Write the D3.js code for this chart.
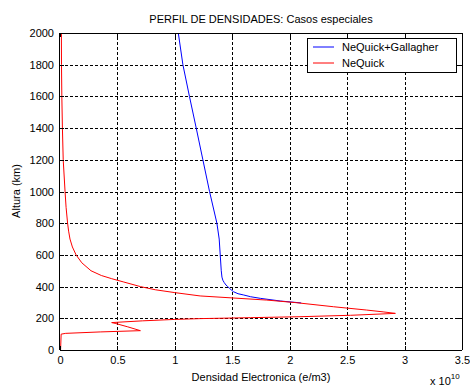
<!DOCTYPE html>
<html>
<head>
<meta charset="utf-8">
<script src="https://cdn.jsdelivr.net/npm/d3@7"></script>
<style>
  html, body { margin: 0; padding: 0; background: #fff; }
  svg { display: block; }
  text { font-family: "Liberation Sans", Arial, sans-serif; fill: #000; }
</style>
</head>
<body>
<svg id="chart" width="470" height="387"></svg>
<script>
// Electron density profiles (density in units of 1e10 e/m3, altitude in km)
const gallagherAlt = [2000, 1800, 1600, 1400, 1200, 1000, 800, 700, 600, 500, 460, 440, 425, 410, 400, 390, 380, 368, 355, 347, 336, 326, 309, 297];
const gallagherDen = [1.03, 1.07, 1.127, 1.186, 1.244, 1.302, 1.366, 1.386, 1.395, 1.404, 1.41, 1.418, 1.43, 1.445, 1.46, 1.475, 1.49, 1.51, 1.55, 1.60, 1.66, 1.744, 1.92, 2.10];

const nequickAlt = [2000, 1800, 1600, 1400, 1200, 1000, 900, 800, 750, 700, 650, 600, 550, 500, 470, 450, 430, 400, 380, 362, 341, 315, 299, 273, 252, 240, 231, 219, 210, 204, 198, 193, 184, 173, 168, 146, 122, 114, 105, 100, 0];
const nequickDen = [0.012, 0.013, 0.016, 0.021, 0.028, 0.044, 0.053, 0.066, 0.075, 0.087, 0.108, 0.14, 0.19, 0.27, 0.36, 0.45, 0.55, 0.70, 0.83, 1.0, 1.22, 1.80, 2.05, 2.38, 2.67, 2.82, 2.92, 2.53, 2.09, 1.66, 1.22, 1.0, 0.72, 0.45, 0.48, 0.59, 0.70, 0.35, 0.05, 0.01, 0.005];

const xTicks = [0, 0.5, 1, 1.5, 2, 2.5, 3, 3.5];
const yTicks = [0, 200, 400, 600, 800, 1000, 1200, 1400, 1600, 1800, 2000];

const seriesNames = ["NeQuick+Gallagher", "NeQuick"];
const seriesColors = ["#0000ff", "#ff0000"];

const titleText = "PERFIL DE DENSIDADES: Casos especiales";
const xLabel = "Densidad Electronica (e/m3)";
const yLabel = "Altura (km)";

const svg = d3.select("#chart");
const m = { left: 60, right: 462, top: 33, bottom: 350 };

const x = d3.scaleLinear().domain([0, 3.5]).range([m.left, m.right]);
const y = d3.scaleLinear().domain([0, 2000]).range([m.bottom, m.top]);

// grid lines
const grid = svg.append("g").attr("stroke", "#000").attr("stroke-width", 1)
  .attr("stroke-dasharray", "3,2").attr("shape-rendering", "crispEdges");
xTicks.slice(1, -1).forEach(t => {
  grid.append("line").attr("x1", Math.round(x(t)) + 0.5).attr("x2", Math.round(x(t)) + 0.5)
    .attr("y1", m.bottom).attr("y2", m.top);
});
yTicks.slice(1, -1).forEach(t => {
  grid.append("line").attr("y1", Math.round(y(t)) + 0.5).attr("y2", Math.round(y(t)) + 0.5)
    .attr("x1", m.left).attr("x2", m.right);
});

// data lines
const line = d3.line().x(d => x(d[0])).y(d => y(d[1]));
const series = [
  d3.zip(gallagherDen, gallagherAlt),
  d3.zip(nequickDen, nequickAlt)
];
svg.append("g").selectAll("path").data(series).join("path")
  .attr("d", line).attr("fill", "none")
  .attr("stroke", (d, i) => seriesColors[i]).attr("stroke-width", 1);

// axes
const xAxis = d3.axisBottom(x).tickValues(xTicks).tickSize(-4).tickPadding(6).tickFormat(d3.format("~g"));
const yAxis = d3.axisLeft(y).tickValues(yTicks).tickSize(-4).tickPadding(6).tickFormat(d3.format("d"));
const xTop = d3.axisTop(x).tickValues(xTicks).tickSize(-4).tickFormat("");
const yRight = d3.axisRight(y).tickValues(yTicks).tickSize(-4).tickFormat("");

function styleAxis(g) {
  g.selectAll(".domain").attr("stroke", "#000");
  g.selectAll(".tick line").attr("stroke", "#000");
  g.selectAll("text").attr("font-size", 11).attr("fill", "#000")
    .attr("font-family", "'Liberation Sans', Arial, sans-serif");
  g.attr("shape-rendering", "crispEdges");
}
svg.append("g").attr("transform", `translate(0,${m.bottom})`).call(xAxis).call(styleAxis)
  .selectAll(".domain").attr("d", `M${m.left},0.5H${m.right}`);
svg.append("g").attr("transform", `translate(${m.left},0)`).call(yAxis).call(styleAxis)
  .selectAll(".domain").attr("d", `M-0.5,${m.top}V${m.bottom}`);
svg.append("g").attr("transform", `translate(0,${m.top})`).call(xTop).call(styleAxis)
  .selectAll(".domain").attr("d", `M${m.left},0.5H${m.right}`);
svg.append("g").attr("transform", `translate(${m.right},0)`).call(yRight).call(styleAxis)
  .selectAll(".domain").attr("d", `M0.5,${m.top}V${m.bottom}`);

// title and labels
svg.append("text").attr("x", 261).attr("y", 23).attr("text-anchor", "middle")
  .attr("font-size", 11).text(titleText);
svg.append("text").attr("x", 261).attr("y", 381).attr("text-anchor", "middle")
  .attr("font-size", 11).text(xLabel);
svg.append("text").attr("transform", "translate(20,191) rotate(-90)").attr("text-anchor", "middle")
  .attr("font-size", 11).text(yLabel);

// exponent multiplier
const mult = svg.append("text").attr("x", 430).attr("y", 385).attr("font-size", 11);
mult.append("tspan").text("x 10");
mult.append("tspan").attr("dy", -6).attr("font-size", 8).text("10");

// legend
const lg = svg.append("g");
lg.append("rect").attr("x", 307.5).attr("y", 38.5).attr("width", 149).attr("height", 34)
  .attr("fill", "#fff").attr("stroke", "#000").attr("stroke-width", 1);
seriesNames.forEach((name, i) => {
  const yy = 47 + i * 16;
  lg.append("line").attr("x1", 313).attr("x2", 334).attr("y1", yy).attr("y2", yy)
    .attr("stroke", seriesColors[i]).attr("stroke-width", 1);
  lg.append("text").attr("x", 342).attr("y", yy + 4).attr("font-size", 11).text(name);
});
</script>
</body>
</html>
